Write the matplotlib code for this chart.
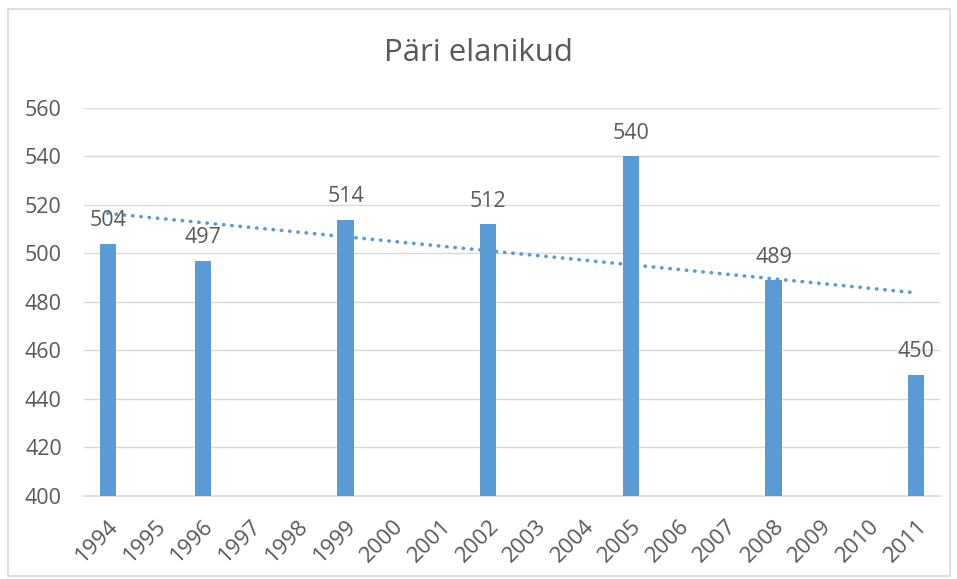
import matplotlib
matplotlib.use("Agg")
import matplotlib.pyplot as plt
import numpy as np

title = "Päri elanikud"
categories = [str(y) for y in range(1994, 2012)]
bar_years = [1994, 1996, 1999, 2002, 2005, 2008, 2011]
bar_values = [504, 497, 514, 512, 540, 489, 450]
y_ticks = [400, 420, 440, 460, 480, 500, 520, 540, 560]

plt.rcParams['font.family'] = ['Open Sans', 'DejaVu Sans']
text_color = '#595959'
bar_color = '#5B9BD5'

fig = plt.figure(figsize=(9.57, 5.79), dpi=100)
ax = fig.add_axes([84/957, 1 - 496/579, (940-84)/957, (496-108)/579])

xpos = [categories.index(str(y)) for y in bar_years]
ax.bar(xpos, bar_values, width=0.34, color=bar_color, zorder=3)

for x, v in zip(xpos, bar_values):
    ax.annotate(str(v), (x, v), xytext=(0, 9), textcoords='offset points',
                ha='center', va='bottom', fontsize=15.5, color=text_color, zorder=5)

# linear trendline
coef = np.polyfit(bar_years, bar_values, 1)
tx = np.array([bar_years[0], bar_years[-1]])
ty = np.polyval(coef, tx)
ax.plot([categories.index(str(t)) for t in tx], ty, linestyle=(0, (0.1, 2.2)),
        dash_capstyle='round', color=bar_color, linewidth=2.6, zorder=4)

ax.set_xlim(-0.5, len(categories) - 0.5)
ax.set_ylim(400, 560)
ax.set_yticks(y_ticks)
ax.set_xticks(range(len(categories)))
ax.set_xticklabels(categories, rotation=45, ha='right', va='top',
                   rotation_mode='anchor', fontsize=16, color=text_color)
ax.tick_params(axis='x', length=0, pad=14)
ax.tick_params(axis='y', length=0, pad=16, labelsize=15.5, labelcolor=text_color)
ax.grid(axis='y', color='#D9D9D9', linewidth=1, zorder=0)
for s in ['top', 'right', 'left']:
    ax.spines[s].set_visible(False)
ax.spines['bottom'].set_color('#D9D9D9')
ax.spines['bottom'].set_linewidth(1.2)

fig.text(0.5, 1 - 53/579, title, ha='center', va='center', fontsize=22.5, color=text_color)

# chart border
fig.patches.append(plt.Rectangle((8/957, 1 - 576/579), (950-8)/957, (576-9)/579,
                                 transform=fig.transFigure, fill=False,
                                 edgecolor='#D9D9D9', linewidth=1.2))

fig.savefig("out.png", dpi=100)
